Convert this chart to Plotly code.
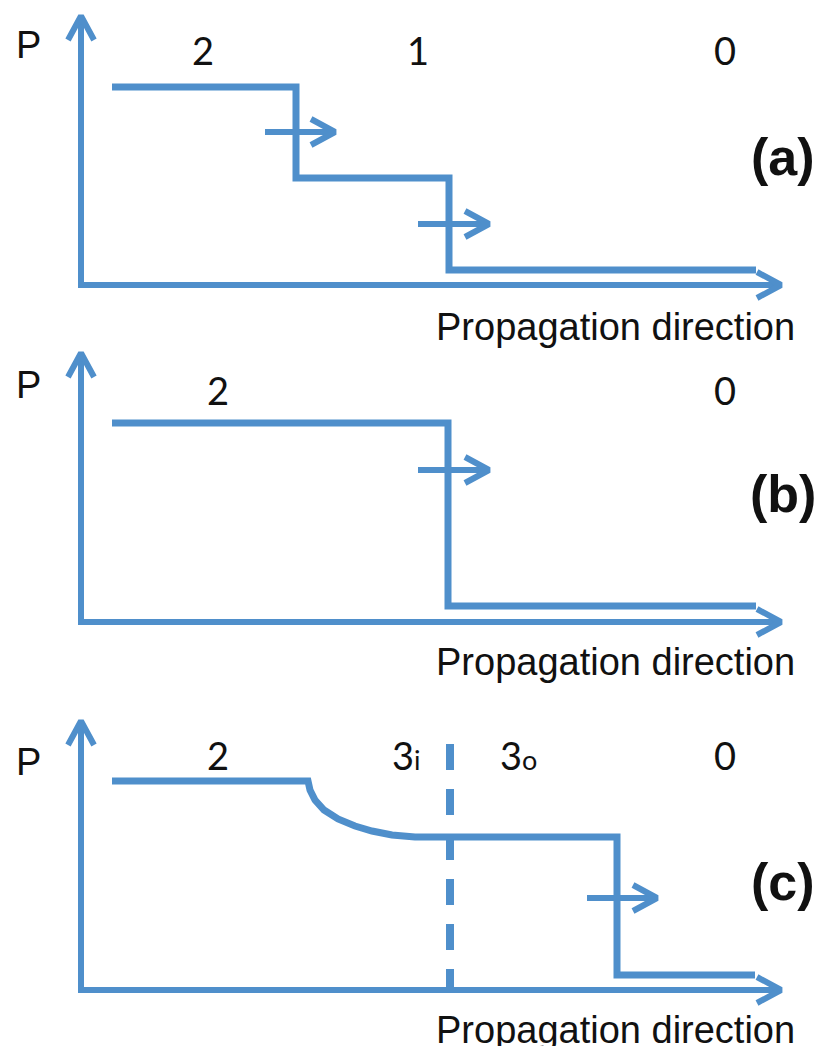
import plotly.graph_objects as go
import math

# ---------------- data (pixel-space diagram coordinates) ----------------
panel_tags = ["(a)", "(b)", "(c)"]
baseline_y = [285, 622, 990]          # horizontal axis of each panel
axis_top_y = [10, 347, 715]           # tip of the vertical P axis
axis_x = 81
axis_end_x = 787

# pressure profiles
a_x = [112, 296, 296, 449, 449, 756]
a_y = [87, 87, 178, 178, 270, 270]
b_x = [112, 448, 448, 756]
b_y = [423, 423, 606, 606]
c_x = [112, 308, 310, 315, 324, 338, 355, 372, 392, 415, 449, 617, 617, 755]
c_y = [781, 781, 790, 800, 810, 819, 826, 831, 835, 837, 837, 837, 975, 975]

# interface in (c)
c_dash_x = [450, 450]
c_dash_y = [744, 990]

# propagation arrows: tail x, tip x, y
prop_tail_x = [265, 418, 418, 587]
prop_tip_x = [341, 495, 495, 663]
prop_y = [132, 224, 470, 898]

# region labels
a_labels = ["2", "1", "0"]
a_label_x = [203, 418, 725]
b_labels = ["2", "0"]
b_label_x = [218, 725]
c_labels = ["2", "3<span style='font-size:27px'>i</span>",
            "3<span style='font-size:27px'>o</span>", "0"]
c_label_x = [218, 406, 518, 725]
label_y = [50, 390, 755]
tag_pos = [(783, 157), (783, 494), (783, 882)]
p_label_y = [45, 385, 762]
xlabel_y = [327, 662, 1030]

BLUE = "#4F8FCB"
W = 821
H = 1046

fig = go.Figure()


def line_trace(xs, ys, width=7, dash=None):
    return go.Scatter(x=xs, y=ys, mode="lines", hoverinfo="skip",
                      line=dict(color=BLUE, width=width, dash=dash),
                      showlegend=False)


def arrow_xy(x0, y0, x1, y1, L=24, Hh=13):
    dx, dy = x1 - x0, y1 - y0
    n = math.hypot(dx, dy)
    ux, uy = dx / n, dy / n
    px, py = -uy, ux
    bx, by = x1 - L * ux, y1 - L * uy
    xs = [x0, x1, None, bx + Hh * px, x1, bx - Hh * px, None]
    ys = [y0, y1, None, by + Hh * py, y1, by - Hh * py, None]
    return xs, ys


# axes with arrow heads
ax_x, ax_y = [], []
for b, t in zip(baseline_y, axis_top_y):
    xs, ys = arrow_xy(axis_x, b + 3, axis_x, t + 6)
    ax_x += xs; ax_y += ys
    xs, ys = arrow_xy(axis_x - 3, b, axis_end_x - 6, b)
    ax_x += xs; ax_y += ys
fig.add_trace(line_trace(ax_x, ax_y, width=6))

# profiles
fig.add_trace(line_trace(a_x, a_y))
fig.add_trace(line_trace(b_x, b_y))
fig.add_trace(line_trace(c_x, c_y))
fig.add_trace(line_trace(c_dash_x, c_dash_y, width=8, dash="26px,19px"))

# propagation arrows
pr_x, pr_y = [], []
for tx, hx, y in zip(prop_tail_x, prop_tip_x, prop_y):
    xs, ys = arrow_xy(tx, y, hx - 6, y)
    pr_x += xs; pr_y += ys
fig.add_trace(line_trace(pr_x, pr_y, width=6))

# ---------------- text ----------------
num_font = dict(family="Lato", size=38, color="#111111")
sans = dict(family="Liberation Sans", size=38, color="#111111")
tag_font = dict(family="Liberation Sans", size=52, color="#111111")


def text(x, y, s, font):
    fig.add_annotation(x=x, y=y, text=s, showarrow=False, font=font,
                       xref="x", yref="y", xanchor="center", yanchor="middle")


for s, x in zip(a_labels, a_label_x):
    text(x, label_y[0], s, num_font)
for s, x in zip(b_labels, b_label_x):
    text(x, label_y[1], s, num_font)
for s, x in zip(c_labels, c_label_x):
    text(x, label_y[2], s, num_font)

for i in range(3):
    text(28, p_label_y[i], "P", sans)
    text(615, xlabel_y[i], "Propagation direction", sans)
    text(tag_pos[i][0], tag_pos[i][1], "<b>" + panel_tags[i] + "</b>", tag_font)

fig.update_layout(
    width=W, height=H,
    margin=dict(l=0, r=0, t=0, b=0),
    paper_bgcolor="white", plot_bgcolor="white",
    xaxis=dict(range=[0, W], visible=False, fixedrange=True),
    yaxis=dict(range=[H, 0], visible=False, fixedrange=True),
)

fig.write_html("out.html", config={"displayModeBar": False},
               post_script="document.body.style.margin='0';"
                           "document.body.style.overflow='hidden';")
